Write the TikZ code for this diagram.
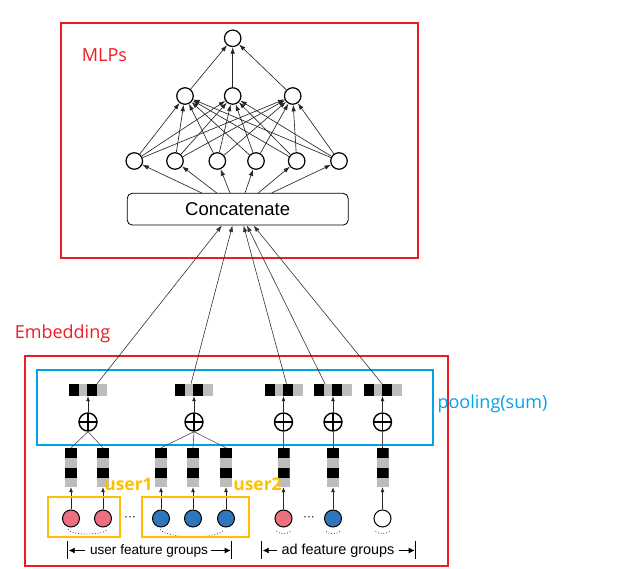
\documentclass[tikz,border=0pt]{standalone}
\usepackage{fontspec}
\setmainfont{Liberation Sans}
\newfontfamily\annofont{Open Sans}
\usetikzlibrary{arrows.meta}
\definecolor{myred}{RGB}{237,28,36}
\definecolor{myblue}{RGB}{0,162,232}
\definecolor{myyellow}{RGB}{255,192,0}
\definecolor{pinkf}{RGB}{236,112,128}
\definecolor{bluef}{RGB}{47,118,188}
\definecolor{cellgray}{RGB}{188,188,188}
\begin{document}
\begin{tikzpicture}[x=1pt,y=-1pt,
  neuron/.style={circle,draw,line width=1.2pt,minimum size=16.5pt,inner sep=0},
  mlparrow/.style={line width=0.65pt,draw=black!85,-{Latex[length=6.5pt,width=4.5pt]}},
  smallarrow/.style={line width=0.7pt,draw=black!85,-{Latex[length=5pt,width=4pt]}},
  longarrow/.style={line width=0.6pt,draw=black!80,-{Latex[length=6.5pt,width=4.5pt]}},
  thinline/.style={line width=0.6pt,draw=black!70},
  redbox/.style={draw=myred,line width=2pt},
  bluebox/.style={draw=myblue,line width=2pt},
  ybox/.style={draw=myyellow,line width=2pt,inner sep=0},
  annotext/.style={font=\annofont\fontsize{18}{20}\selectfont,inner sep=0,anchor=base},
  userlabel/.style={font=\annofont\bfseries\fontsize{17.5}{19}\selectfont,text=myyellow,inner sep=0,anchor=base},
  grouplabel/.style={inner sep=0,anchor=base},
  grparrow/.style={line width=0.9pt,-{Latex[length=6pt,width=6pt]}},
  feat/.style={circle,draw,line width=1pt,minimum size=17pt,inner sep=0},
  oplus/.style={circle,draw,line width=1.4pt,minimum size=18pt,inner sep=0,
    path picture={\draw[line width=1.4pt] (path picture bounding box.north) -- (path picture bounding box.south)
      (path picture bounding box.west) -- (path picture bounding box.east);}},
  pooled/.style={fill=cellgray,minimum width=38pt,minimum height=12pt,inner sep=0,
    path picture={
      \fill[black] (path picture bounding box.north west) rectangle ([xshift=10pt]path picture bounding box.south west);
      \fill[black] ([xshift=18pt]path picture bounding box.north west) rectangle ([xshift=28pt]path picture bounding box.south west);}},
  vbar/.style={fill=cellgray,minimum width=12pt,minimum height=39pt,inner sep=0,
    path picture={
      \fill[black] (path picture bounding box.north west) rectangle ([yshift=-10pt]path picture bounding box.north east);
      \fill[black] ([yshift=-20pt]path picture bounding box.north west) rectangle ([yshift=-30pt]path picture bounding box.north east);}},
  dotarc/.style={line width=0.8pt,dotted,draw=black!75}
]
\useasboundingbox (0,0) rectangle (625,569);

% frames
\draw[redbox] (61,22.7) rectangle (417.7,257.7);
\draw[redbox] (25.3,356) rectangle (447.7,566.5);
\draw[bluebox] (36.7,370) rectangle (433,445.5);

% labels
\node[annotext,text=myred] (mlplabel) at (104.5,62) {MLPs};
\node[annotext,text=myred] (emblabel) at (62.5,339) {Embedding};
\node[annotext,text=myblue] (poollabel) at (492.5,409) {pooling(sum)};

% MLP
\node[neuron] (t) at (232.7,38.3) {};
\node[neuron] (m1) at (185,96) {};
\node[neuron] (m2) at (232.7,96) {};
\node[neuron] (m3) at (292.7,96) {};
\foreach \i/\x in {1/134.3,2/175,3/217.3,4/256,5/296.7,6/339}
  \node[neuron] (b\i) at (\x,161) {};
\node[draw,rounded corners=5pt,line width=0.8pt,minimum width=221pt,minimum height=31.7pt,
  font=\fontsize{18.5}{20}\selectfont] (concat) at (237.7,209.2) {Concatenate};

\foreach \j in {1,2,3} \draw[mlparrow] (m\j) -- (t);
\foreach \i in {1,...,6} \foreach \j in {1,2,3} \draw[mlparrow] (b\i) -- (m\j);
\foreach \i/\dx in {1/-36,2/-21,3/-7.7,4/7.3,5/20.6,6/34}
  \draw[mlparrow] ([xshift=\dx pt]concat.north) -- (b\i);

% pooling
\foreach \n/\x in {1/88,2/194,3/283.5,4/333,5/382.5} {
  \node[pooled] (p\n) at (\x,390) {};
  \node[oplus] (o\n) at (\x,422) {};
  \draw[smallarrow] (o\n) -- (p\n);
}
\foreach \n/\sx/\ex in {1/9/-15.8,2/-3/-5.2,3/3/5.8,4/-8/9.2,5/-0.5/15.8}
  \draw[longarrow] ([xshift=\sx pt]p\n.north) -- ([xshift=\ex pt]concat.south);

% embedding bars and feature nodes
\foreach \n/\x/\c in {1/71/pinkf,2/103/pinkf,3/161/bluef,4/193/bluef,5/226/bluef,6/283.5/pinkf,7/333/bluef,8/382.5/white} {
  \node[vbar] (v\n) at (\x,467.5) {};
  \node[feat,fill=\c] (f\n) at (\x,518.5) {};
  \draw[smallarrow] (f\n) -- (v\n);
}
\draw[thinline] (o1.south) -- (v1.north);
\draw[thinline] (o1.south) -- (v2.north);
\draw[thinline] (o2.south) -- (v3.north);
\draw[thinline] (o2.south) -- (v4.north);
\draw[thinline] (o2.south) -- (v5.north);
\draw[thinline] (o3.south) -- (v6.north);
\draw[thinline] (o4.south) -- (v7.north);
\draw[thinline] (o5.south) -- (v8.north);

% dots
\node[inner sep=0,font=\fontsize{12}{12}\selectfont] (dots1) at (130,519) {···};
\node[inner sep=0,font=\fontsize{12}{12}\selectfont] (dots2) at (309,519) {···};

% dotted arcs
\draw[dotarc] ([xshift=-3pt,yshift=-2pt]f1.south) .. controls ([xshift=-1pt,yshift=-8pt]f1.south) and ([xshift=1pt,yshift=-8pt]f2.south) .. ([xshift=4pt,yshift=-2pt]f2.south);
\draw[dotarc] ([xshift=-1pt,yshift=-2pt]f3.south) .. controls ([xshift=8pt,yshift=-12pt]f3.south) and ([xshift=-8pt,yshift=-12pt]f5.south) .. ([xshift=-2pt,yshift=-2pt]f5.south);
\foreach \n in {6,7,8}
  \draw[dotarc] ([xshift=-7pt,yshift=-4pt]f\n.south) .. controls ([xshift=-3pt,yshift=-7pt]f\n.south) and ([xshift=3pt,yshift=-7pt]f\n.south) .. ([xshift=7pt,yshift=-4pt]f\n.south);

% yellow groups
\node[ybox,minimum width=71.7pt,minimum height=40pt] (g1) at (84.2,517) {};
\node[ybox,minimum width=107.3pt,minimum height=39.4pt] (g2) at (195.4,517) {};
\node[userlabel] (u1) at (128.5,490.5) {user1};
\node[userlabel] (u2) at (257.5,490.5) {user2};

% feature group labels
\node[grouplabel,font=\fontsize{13.6}{15}\selectfont] (ufg) at (149,555) {user feature groups};
\node[grouplabel,font=\fontsize{14.4}{16}\selectfont] (afg) at (338,555) {ad feature groups};
\coordinate (ul) at (67.7,550.5);
\coordinate (ur) at (231.7,550.5);
\coordinate (al) at (261.7,550.5);
\coordinate (ar) at (415.7,550.5);
\foreach \c in {ul,ur,al,ar}
  \draw[line width=0.9pt] ([yshift=9pt]\c) -- ([yshift=-9pt]\c);
\draw[grparrow] ([xshift=-5pt]ufg.west |- ul) -- ([xshift=1pt]ul);
\draw[grparrow] ([xshift=3pt]ufg.east |- ur) -- ([xshift=-1pt]ur);
\draw[grparrow] ([xshift=-4pt]afg.west |- al) -- ([xshift=1pt]al);
\draw[grparrow] ([xshift=4pt]afg.east |- ar) -- ([xshift=-1pt]ar);
\end{tikzpicture}
\end{document}
